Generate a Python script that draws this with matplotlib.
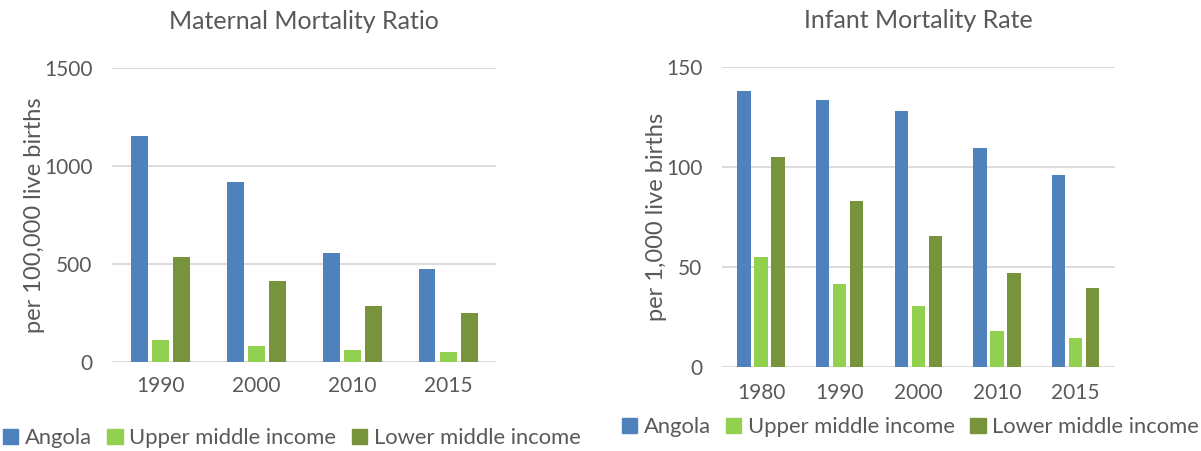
import matplotlib
matplotlib.use('Agg')
from matplotlib import pyplot as plt
from matplotlib.patches import Patch
import numpy as np

plt.rcParams['font.family'] = ['Lato', 'DejaVu Sans']

series = ['Angola', 'Upper middle income', 'Lower middle income']
colors = ['#4F81BD', '#92D050', '#77933C']

mmr_years = ['1990', '2000', '2010', '2015']
mmr_angola = [1156, 921, 559, 477]
mmr_upper = [112, 83, 61, 51]
mmr_lower = [536, 415, 287, 251]

imr_years = ['1980', '1990', '2000', '2010', '2015']
imr_angola = [138, 133.3, 128, 109.2, 95.7]
imr_upper = [55, 41.3, 30.2, 18, 14.5]
imr_lower = [104.7, 82.8, 65.5, 46.7, 39.5]

txt = '#595959'
fs = 15


def draw(ax, years, vals, ymax, step, ylabel, title, bw, pitch):
    x = np.arange(len(years))
    for i, (v, c) in enumerate(zip(vals, colors)):
        ax.bar(x + (i - 1) * pitch, v, width=bw, color=c, zorder=3)
    ax.set_xlim(-0.5, len(years) - 0.5)
    ax.set_ylim(0, ymax)
    ax.set_yticks(np.arange(0, ymax + 1, step))
    ax.set_xticks(x)
    ax.set_xticklabels(years)
    ax.grid(axis='y', color='#D9D9D9', linewidth=1.3, zorder=0)
    for s in ax.spines.values():
        s.set_visible(False)
    ax.tick_params(length=0, labelsize=fs, colors=txt, pad=10)
    ax.tick_params(axis='y', pad=14)
    ax.set_ylabel(ylabel, fontsize=17, color=txt, labelpad=-1)
    ax.set_title(title, fontsize=18, color=txt, pad=28)


fig = plt.figure(figsize=(12.01, 4.51), dpi=100)
ax1 = fig.add_axes([0.0933, 0.1967, 0.3197, 0.652])
ax2 = fig.add_axes([0.601, 0.187, 0.3274, 0.665])

draw(ax1, mmr_years, [mmr_angola, mmr_upper, mmr_lower], 1500, 500,
     'per 100,000 live births', 'Maternal Mortality Ratio', 0.177, 0.219)
draw(ax2, imr_years, [imr_angola, imr_upper, imr_lower], 150, 50,
     'per 1,000 live births', 'Infant Mortality Rate', 0.17, 0.216)
ax2.tick_params(axis='x', pad=12)

handles = [Patch(color=c) for c in colors]
for xc, yc in [(0.243, 0.028), (0.758, 0.053)]:
    leg = fig.legend(handles, series, loc='center', bbox_to_anchor=(xc, yc),
                     ncol=3, frameon=False, fontsize=15.8, handlelength=0.7,
                     handleheight=0.7, handletextpad=0.3, columnspacing=0.7)
    for t in leg.get_texts():
        t.set_color(txt)

fig.savefig('out.png', dpi=100)
